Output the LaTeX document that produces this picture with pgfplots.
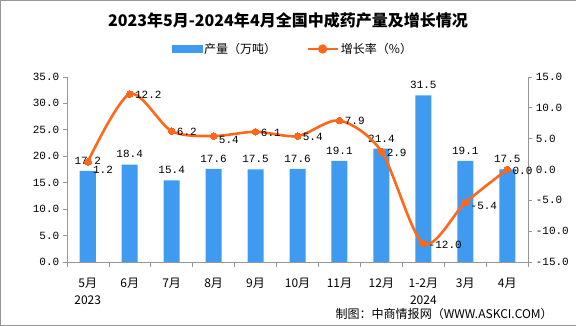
\documentclass[border=0pt]{standalone}
\usepackage{pgfplots}
\usepackage{pgfplotstable}
\pgfplotsset{compat=1.18}
\usepackage{fontspec}
\setmainfont{Noto Sans CJK SC}
\setmonofont{Liberation Mono}
\definecolor{barblue}{RGB}{62,155,240}
\definecolor{lineor}{RGB}{255,104,26}
\definecolor{axgray}{RGB}{150,150,150}
\pgfplotstableread{
x y dy
0 1.2 -8
1 12.2 -1
2 6.2 -1
3 5.4 -4
4 6.1 -1
5 5.4 -1
6 7.9 0
7 2.9 -1
8 -12.0 -1
9 -5.4 -3
10 0.0 -1
}\growth
\begin{document}
\begin{tikzpicture}
\draw[axgray] (0.5pt,0.5pt) rectangle (575.5pt,325.5pt);
\node[font=\bfseries\fontsize{16}{18}\selectfont] at (288pt,305pt) {2023年5月-2024年4月全国中成药产量及增长情况};
\node[anchor=east, font=\fontsize{12}{14}\selectfont] at (556pt,12pt) {制图：中商情报网（WWW.ASKCI.COM）};
\begin{axis}[
  at={(67pt,64pt)}, anchor=south west,
  width=461pt, height=185pt, scale only axis,
  xmin=-0.5, xmax=10.5, ymin=0, ymax=35,
  ytick={0,5,...,35},
  axis y line*=left, axis x line*=bottom,
  axis line style={axgray},
  every tick/.style={axgray},
  tick align=outside,
  xtick={0,...,10},
  major x tick style={draw=none},
  minor xtick={-0.5,0.5,...,10.5},
  minor tick length=5pt, major tick length=4pt,
  xticklabels={{5月\\2023},6月,7月,8月,9月,10月,11月,12月,{1-2月\\2024},3月,4月},
  x tick label style={align=center, font=\fontsize{12}{17}\selectfont, yshift=-9pt, anchor=north},
  y tick label style={font=\ttfamily\fontsize{11}{12}\selectfont},
  /pgf/number format/assume math mode=true,
  yticklabel={\pgfmathprintnumber[fixed,zerofill,precision=1]{\tick}},
  clip=false,
]
\addplot[ybar, fill=barblue, draw=none, bar width=16pt,
  nodes near coords={\pgfmathprintnumber[fixed,zerofill,precision=1]{\pgfplotspointmeta}},
  every node near coord/.append style={font=\ttfamily\fontsize{11}{12}\selectfont, black, yshift=3pt}]
coordinates {(0,17.2) (1,18.4) (2,15.4) (3,17.6) (4,17.5) (5,17.6) (6,19.1) (7,21.4) (8,31.5) (9,19.1) (10,17.5)};
\end{axis}
\begin{axis}[
  at={(67pt,64pt)}, anchor=south west,
  width=461pt, height=185pt, scale only axis,
  xmin=-0.5, xmax=10.5, ymin=-15, ymax=15,
  ytick={-15,-10,...,15},
  axis y line*=right, axis x line=none,
  axis line style={axgray},
  every tick/.style={axgray},
  tick align=outside, major tick length=4pt,
  y tick label style={font=\ttfamily\fontsize{11}{12}\selectfont},
  /pgf/number format/assume math mode=true,
  yticklabel={\pgfmathprintnumber[fixed,zerofill,precision=1]{\tick}},
  clip=false,
  legend style={at={(0.49,1.15)}, anchor=center, draw=none, fill=none,
    legend columns=2, font=\fontsize{12}{14}\selectfont,
    /tikz/every even column/.append style={column sep=28pt}},
]
\addlegendimage{legend image code/.code={\fill[barblue] (0pt,-3.5pt) rectangle (30pt,3.5pt);}}
\addlegendentry{产量（万吨）}
\addplot[lineor, line width=2.6pt, smooth, mark=*, mark size=3.3pt,
  mark options={fill=lineor, draw=lineor, line width=0pt},
  legend image code/.code={\draw[lineor, line width=2.6pt] (0pt,0pt)--(30pt,0pt); \fill[lineor] (15pt,0pt) circle (3.3pt);},
  visualization depends on={\thisrow{dy} \as \dy},
  nodes near coords={\pgfmathprintnumber[fixed,zerofill,precision=1]{\pgfplotspointmeta}},
  every node near coord/.append style={font=\ttfamily\fontsize{11}{12}\selectfont, black, anchor=west, xshift=2pt, yshift=\dy pt}]
table[x=x, y=y] {\growth};
\addlegendentry{增长率（\%）}
\end{axis}
\end{tikzpicture}
\end{document}
